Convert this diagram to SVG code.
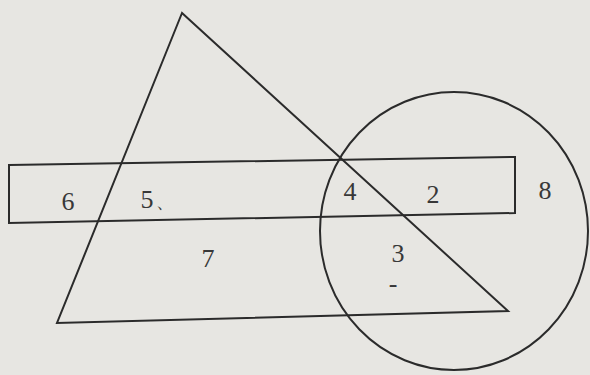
<svg xmlns="http://www.w3.org/2000/svg" width="590" height="375" viewBox="0 0 590 375">
<style>
.ln{fill:none;stroke:#2b2b2b;stroke-width:2;stroke-linejoin:miter}
.lb{font-family:"Liberation Serif",serif;font-size:26px;fill:#383838;text-anchor:middle}
</style>
<rect width="590" height="375" fill="#e7e6e2"/>
<g id="triangle"><polygon class="ln" points="182,13 57,323 508,311"/></g>
<g id="rectangle"><polygon class="ln" points="9,165 515,157 515,213 9,223"/></g>
<g id="circle"><ellipse class="ln" cx="454" cy="231" rx="134" ry="139"/></g>
<g id="labels">
<text class="lb" x="157" y="208">5<tspan font-size="18" dx="2">、</tspan></text>
<text class="lb" x="68" y="210">6</text>
<text class="lb" x="208" y="267">7</text>
<text class="lb" x="350" y="200">4</text>
<text class="lb" x="433" y="203">2</text>
<text class="lb" x="545" y="199">8</text>
<text class="lb" x="398" y="262">3</text>
<text class="lb" x="393" y="292" font-size="22">-</text>
</g>
</svg>
